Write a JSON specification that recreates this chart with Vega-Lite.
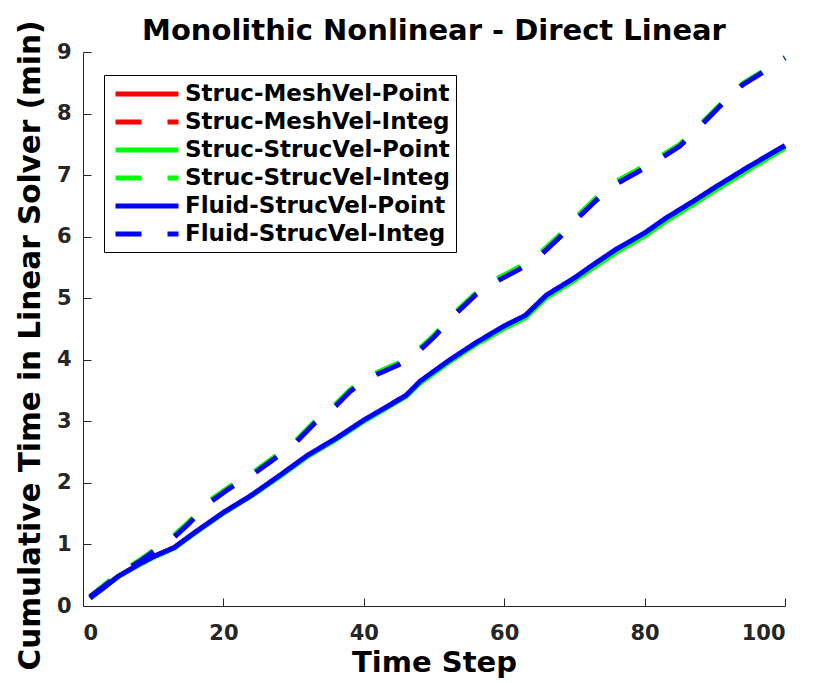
{
  "$schema": "https://vega.github.io/schema/vega-lite/v6.json",
  "autosize": "none",
  "width": 702,
  "height": 554,
  "padding": {"left": 83, "top": 52, "right": 29, "bottom": 77},
  "background": "white",
  "title": {
    "text": "Monolithic Nonlinear - Direct Linear",
    "font": "DejaVu Sans",
    "fontSize": 29,
    "fontWeight": "bold",
    "color": "black",
    "anchor": "middle",
    "baseline": "alphabetic",
    "offset": -49
  },
  "config": {
    "view": {"stroke": null},
    "axis": {
      "grid": false,
      "domainColor": "#262626",
      "tickColor": "#262626",
      "domainWidth": 1,
      "tickWidth": 1,
      "labelFont": "DejaVu Sans",
      "labelFontSize": 21,
      "labelFontWeight": "bold",
      "labelColor": "#262626",
      "titleFont": "DejaVu Sans",
      "titleFontSize": 29,
      "titleFontWeight": "bold",
      "titleColor": "black",
      "tickSize": -8
    }
  },
  "data": {
    "values": [
      {"t": 1, "v": 0.13, "s": "Struc-MeshVel-Point"},
      {"t": 3, "v": 0.31, "s": "Struc-MeshVel-Point"},
      {"t": 5, "v": 0.48, "s": "Struc-MeshVel-Point"},
      {"t": 8, "v": 0.68, "s": "Struc-MeshVel-Point"},
      {"t": 10, "v": 0.8, "s": "Struc-MeshVel-Point"},
      {"t": 13, "v": 0.95, "s": "Struc-MeshVel-Point"},
      {"t": 16, "v": 1.2, "s": "Struc-MeshVel-Point"},
      {"t": 20, "v": 1.51, "s": "Struc-MeshVel-Point"},
      {"t": 24, "v": 1.79, "s": "Struc-MeshVel-Point"},
      {"t": 28, "v": 2.11, "s": "Struc-MeshVel-Point"},
      {"t": 32, "v": 2.44, "s": "Struc-MeshVel-Point"},
      {"t": 36, "v": 2.71, "s": "Struc-MeshVel-Point"},
      {"t": 40, "v": 3.01, "s": "Struc-MeshVel-Point"},
      {"t": 43, "v": 3.21, "s": "Struc-MeshVel-Point"},
      {"t": 46, "v": 3.41, "s": "Struc-MeshVel-Point"},
      {"t": 48, "v": 3.63, "s": "Struc-MeshVel-Point"},
      {"t": 52, "v": 3.96, "s": "Struc-MeshVel-Point"},
      {"t": 56, "v": 4.26, "s": "Struc-MeshVel-Point"},
      {"t": 60, "v": 4.53, "s": "Struc-MeshVel-Point"},
      {"t": 63, "v": 4.7, "s": "Struc-MeshVel-Point"},
      {"t": 66, "v": 5.03, "s": "Struc-MeshVel-Point"},
      {"t": 70, "v": 5.31, "s": "Struc-MeshVel-Point"},
      {"t": 73, "v": 5.54, "s": "Struc-MeshVel-Point"},
      {"t": 76, "v": 5.77, "s": "Struc-MeshVel-Point"},
      {"t": 80, "v": 6.03, "s": "Struc-MeshVel-Point"},
      {"t": 83, "v": 6.27, "s": "Struc-MeshVel-Point"},
      {"t": 87, "v": 6.55, "s": "Struc-MeshVel-Point"},
      {"t": 90, "v": 6.77, "s": "Struc-MeshVel-Point"},
      {"t": 95, "v": 7.12, "s": "Struc-MeshVel-Point"},
      {"t": 100, "v": 7.46, "s": "Struc-MeshVel-Point"},

      {"t": 1, "v": 0.15, "s": "Struc-MeshVel-Integ"},
      {"t": 3, "v": 0.33, "s": "Struc-MeshVel-Integ"},
      {"t": 5, "v": 0.51, "s": "Struc-MeshVel-Integ"},
      {"t": 8, "v": 0.73, "s": "Struc-MeshVel-Integ"},
      {"t": 10, "v": 0.89, "s": "Struc-MeshVel-Integ"},
      {"t": 13, "v": 1.13, "s": "Struc-MeshVel-Integ"},
      {"t": 15, "v": 1.34, "s": "Struc-MeshVel-Integ"},
      {"t": 18, "v": 1.69, "s": "Struc-MeshVel-Integ"},
      {"t": 21, "v": 1.93, "s": "Struc-MeshVel-Integ"},
      {"t": 24, "v": 2.13, "s": "Struc-MeshVel-Integ"},
      {"t": 27, "v": 2.38, "s": "Struc-MeshVel-Integ"},
      {"t": 30, "v": 2.63, "s": "Struc-MeshVel-Integ"},
      {"t": 33, "v": 2.98, "s": "Struc-MeshVel-Integ"},
      {"t": 36, "v": 3.26, "s": "Struc-MeshVel-Integ"},
      {"t": 38, "v": 3.49, "s": "Struc-MeshVel-Integ"},
      {"t": 40, "v": 3.66, "s": "Struc-MeshVel-Integ"},
      {"t": 42, "v": 3.78, "s": "Struc-MeshVel-Integ"},
      {"t": 45, "v": 3.93, "s": "Struc-MeshVel-Integ"},
      {"t": 47, "v": 4.06, "s": "Struc-MeshVel-Integ"},
      {"t": 50, "v": 4.38, "s": "Struc-MeshVel-Integ"},
      {"t": 53, "v": 4.75, "s": "Struc-MeshVel-Integ"},
      {"t": 56, "v": 5.07, "s": "Struc-MeshVel-Integ"},
      {"t": 58, "v": 5.23, "s": "Struc-MeshVel-Integ"},
      {"t": 62, "v": 5.47, "s": "Struc-MeshVel-Integ"},
      {"t": 65, "v": 5.69, "s": "Struc-MeshVel-Integ"},
      {"t": 68, "v": 6.01, "s": "Struc-MeshVel-Integ"},
      {"t": 70, "v": 6.26, "s": "Struc-MeshVel-Integ"},
      {"t": 73, "v": 6.59, "s": "Struc-MeshVel-Integ"},
      {"t": 76, "v": 6.87, "s": "Struc-MeshVel-Integ"},
      {"t": 79, "v": 7.06, "s": "Struc-MeshVel-Integ"},
      {"t": 82, "v": 7.26, "s": "Struc-MeshVel-Integ"},
      {"t": 85, "v": 7.48, "s": "Struc-MeshVel-Integ"},
      {"t": 88, "v": 7.81, "s": "Struc-MeshVel-Integ"},
      {"t": 91, "v": 8.16, "s": "Struc-MeshVel-Integ"},
      {"t": 94, "v": 8.48, "s": "Struc-MeshVel-Integ"},
      {"t": 97, "v": 8.69, "s": "Struc-MeshVel-Integ"},
      {"t": 100, "v": 8.91, "s": "Struc-MeshVel-Integ"},

      {"t": 1, "v": 0.13, "s": "Struc-StrucVel-Point"},
      {"t": 3, "v": 0.3, "s": "Struc-StrucVel-Point"},
      {"t": 5, "v": 0.48, "s": "Struc-StrucVel-Point"},
      {"t": 8, "v": 0.67, "s": "Struc-StrucVel-Point"},
      {"t": 10, "v": 0.79, "s": "Struc-StrucVel-Point"},
      {"t": 13, "v": 0.94, "s": "Struc-StrucVel-Point"},
      {"t": 16, "v": 1.19, "s": "Struc-StrucVel-Point"},
      {"t": 20, "v": 1.51, "s": "Struc-StrucVel-Point"},
      {"t": 24, "v": 1.79, "s": "Struc-StrucVel-Point"},
      {"t": 28, "v": 2.1, "s": "Struc-StrucVel-Point"},
      {"t": 32, "v": 2.43, "s": "Struc-StrucVel-Point"},
      {"t": 36, "v": 2.7, "s": "Struc-StrucVel-Point"},
      {"t": 40, "v": 3.0, "s": "Struc-StrucVel-Point"},
      {"t": 43, "v": 3.2, "s": "Struc-StrucVel-Point"},
      {"t": 46, "v": 3.4, "s": "Struc-StrucVel-Point"},
      {"t": 48, "v": 3.62, "s": "Struc-StrucVel-Point"},
      {"t": 52, "v": 3.95, "s": "Struc-StrucVel-Point"},
      {"t": 56, "v": 4.25, "s": "Struc-StrucVel-Point"},
      {"t": 60, "v": 4.51, "s": "Struc-StrucVel-Point"},
      {"t": 63, "v": 4.68, "s": "Struc-StrucVel-Point"},
      {"t": 66, "v": 5.01, "s": "Struc-StrucVel-Point"},
      {"t": 70, "v": 5.29, "s": "Struc-StrucVel-Point"},
      {"t": 73, "v": 5.52, "s": "Struc-StrucVel-Point"},
      {"t": 76, "v": 5.75, "s": "Struc-StrucVel-Point"},
      {"t": 80, "v": 6.01, "s": "Struc-StrucVel-Point"},
      {"t": 83, "v": 6.25, "s": "Struc-StrucVel-Point"},
      {"t": 87, "v": 6.53, "s": "Struc-StrucVel-Point"},
      {"t": 90, "v": 6.75, "s": "Struc-StrucVel-Point"},
      {"t": 95, "v": 7.1, "s": "Struc-StrucVel-Point"},
      {"t": 100, "v": 7.44, "s": "Struc-StrucVel-Point"},

      {"t": 1, "v": 0.15, "s": "Struc-StrucVel-Integ"},
      {"t": 3, "v": 0.34, "s": "Struc-StrucVel-Integ"},
      {"t": 5, "v": 0.52, "s": "Struc-StrucVel-Integ"},
      {"t": 8, "v": 0.74, "s": "Struc-StrucVel-Integ"},
      {"t": 10, "v": 0.9, "s": "Struc-StrucVel-Integ"},
      {"t": 13, "v": 1.15, "s": "Struc-StrucVel-Integ"},
      {"t": 15, "v": 1.36, "s": "Struc-StrucVel-Integ"},
      {"t": 18, "v": 1.71, "s": "Struc-StrucVel-Integ"},
      {"t": 21, "v": 1.95, "s": "Struc-StrucVel-Integ"},
      {"t": 24, "v": 2.15, "s": "Struc-StrucVel-Integ"},
      {"t": 27, "v": 2.4, "s": "Struc-StrucVel-Integ"},
      {"t": 30, "v": 2.65, "s": "Struc-StrucVel-Integ"},
      {"t": 33, "v": 3.0, "s": "Struc-StrucVel-Integ"},
      {"t": 36, "v": 3.28, "s": "Struc-StrucVel-Integ"},
      {"t": 38, "v": 3.51, "s": "Struc-StrucVel-Integ"},
      {"t": 40, "v": 3.68, "s": "Struc-StrucVel-Integ"},
      {"t": 42, "v": 3.8, "s": "Struc-StrucVel-Integ"},
      {"t": 45, "v": 3.95, "s": "Struc-StrucVel-Integ"},
      {"t": 47, "v": 4.08, "s": "Struc-StrucVel-Integ"},
      {"t": 50, "v": 4.4, "s": "Struc-StrucVel-Integ"},
      {"t": 53, "v": 4.77, "s": "Struc-StrucVel-Integ"},
      {"t": 56, "v": 5.09, "s": "Struc-StrucVel-Integ"},
      {"t": 58, "v": 5.26, "s": "Struc-StrucVel-Integ"},
      {"t": 62, "v": 5.5, "s": "Struc-StrucVel-Integ"},
      {"t": 65, "v": 5.72, "s": "Struc-StrucVel-Integ"},
      {"t": 68, "v": 6.04, "s": "Struc-StrucVel-Integ"},
      {"t": 70, "v": 6.29, "s": "Struc-StrucVel-Integ"},
      {"t": 73, "v": 6.62, "s": "Struc-StrucVel-Integ"},
      {"t": 76, "v": 6.9, "s": "Struc-StrucVel-Integ"},
      {"t": 79, "v": 7.09, "s": "Struc-StrucVel-Integ"},
      {"t": 82, "v": 7.29, "s": "Struc-StrucVel-Integ"},
      {"t": 85, "v": 7.5, "s": "Struc-StrucVel-Integ"},
      {"t": 88, "v": 7.83, "s": "Struc-StrucVel-Integ"},
      {"t": 91, "v": 8.17, "s": "Struc-StrucVel-Integ"},
      {"t": 94, "v": 8.49, "s": "Struc-StrucVel-Integ"},
      {"t": 97, "v": 8.7, "s": "Struc-StrucVel-Integ"},
      {"t": 100, "v": 8.91, "s": "Struc-StrucVel-Integ"},

      {"t": 1, "v": 0.13, "s": "Fluid-StrucVel-Point"},
      {"t": 3, "v": 0.3, "s": "Fluid-StrucVel-Point"},
      {"t": 5, "v": 0.48, "s": "Fluid-StrucVel-Point"},
      {"t": 8, "v": 0.68, "s": "Fluid-StrucVel-Point"},
      {"t": 10, "v": 0.8, "s": "Fluid-StrucVel-Point"},
      {"t": 13, "v": 0.95, "s": "Fluid-StrucVel-Point"},
      {"t": 16, "v": 1.2, "s": "Fluid-StrucVel-Point"},
      {"t": 20, "v": 1.52, "s": "Fluid-StrucVel-Point"},
      {"t": 24, "v": 1.8, "s": "Fluid-StrucVel-Point"},
      {"t": 28, "v": 2.12, "s": "Fluid-StrucVel-Point"},
      {"t": 32, "v": 2.45, "s": "Fluid-StrucVel-Point"},
      {"t": 36, "v": 2.72, "s": "Fluid-StrucVel-Point"},
      {"t": 40, "v": 3.02, "s": "Fluid-StrucVel-Point"},
      {"t": 43, "v": 3.22, "s": "Fluid-StrucVel-Point"},
      {"t": 46, "v": 3.42, "s": "Fluid-StrucVel-Point"},
      {"t": 48, "v": 3.65, "s": "Fluid-StrucVel-Point"},
      {"t": 52, "v": 3.98, "s": "Fluid-StrucVel-Point"},
      {"t": 56, "v": 4.28, "s": "Fluid-StrucVel-Point"},
      {"t": 60, "v": 4.55, "s": "Fluid-StrucVel-Point"},
      {"t": 63, "v": 4.72, "s": "Fluid-StrucVel-Point"},
      {"t": 66, "v": 5.05, "s": "Fluid-StrucVel-Point"},
      {"t": 70, "v": 5.33, "s": "Fluid-StrucVel-Point"},
      {"t": 73, "v": 5.57, "s": "Fluid-StrucVel-Point"},
      {"t": 76, "v": 5.8, "s": "Fluid-StrucVel-Point"},
      {"t": 80, "v": 6.06, "s": "Fluid-StrucVel-Point"},
      {"t": 83, "v": 6.3, "s": "Fluid-StrucVel-Point"},
      {"t": 87, "v": 6.58, "s": "Fluid-StrucVel-Point"},
      {"t": 90, "v": 6.8, "s": "Fluid-StrucVel-Point"},
      {"t": 95, "v": 7.15, "s": "Fluid-StrucVel-Point"},
      {"t": 100, "v": 7.48, "s": "Fluid-StrucVel-Point"},

      {"t": 1, "v": 0.15, "s": "Fluid-StrucVel-Integ"},
      {"t": 3, "v": 0.32, "s": "Fluid-StrucVel-Integ"},
      {"t": 5, "v": 0.5, "s": "Fluid-StrucVel-Integ"},
      {"t": 8, "v": 0.72, "s": "Fluid-StrucVel-Integ"},
      {"t": 10, "v": 0.88, "s": "Fluid-StrucVel-Integ"},
      {"t": 13, "v": 1.12, "s": "Fluid-StrucVel-Integ"},
      {"t": 15, "v": 1.33, "s": "Fluid-StrucVel-Integ"},
      {"t": 18, "v": 1.68, "s": "Fluid-StrucVel-Integ"},
      {"t": 21, "v": 1.92, "s": "Fluid-StrucVel-Integ"},
      {"t": 24, "v": 2.12, "s": "Fluid-StrucVel-Integ"},
      {"t": 27, "v": 2.37, "s": "Fluid-StrucVel-Integ"},
      {"t": 30, "v": 2.62, "s": "Fluid-StrucVel-Integ"},
      {"t": 33, "v": 2.97, "s": "Fluid-StrucVel-Integ"},
      {"t": 36, "v": 3.25, "s": "Fluid-StrucVel-Integ"},
      {"t": 38, "v": 3.48, "s": "Fluid-StrucVel-Integ"},
      {"t": 40, "v": 3.65, "s": "Fluid-StrucVel-Integ"},
      {"t": 42, "v": 3.77, "s": "Fluid-StrucVel-Integ"},
      {"t": 45, "v": 3.92, "s": "Fluid-StrucVel-Integ"},
      {"t": 47, "v": 4.05, "s": "Fluid-StrucVel-Integ"},
      {"t": 50, "v": 4.37, "s": "Fluid-StrucVel-Integ"},
      {"t": 53, "v": 4.74, "s": "Fluid-StrucVel-Integ"},
      {"t": 56, "v": 5.06, "s": "Fluid-StrucVel-Integ"},
      {"t": 58, "v": 5.22, "s": "Fluid-StrucVel-Integ"},
      {"t": 62, "v": 5.46, "s": "Fluid-StrucVel-Integ"},
      {"t": 65, "v": 5.68, "s": "Fluid-StrucVel-Integ"},
      {"t": 68, "v": 6.0, "s": "Fluid-StrucVel-Integ"},
      {"t": 70, "v": 6.25, "s": "Fluid-StrucVel-Integ"},
      {"t": 73, "v": 6.58, "s": "Fluid-StrucVel-Integ"},
      {"t": 76, "v": 6.86, "s": "Fluid-StrucVel-Integ"},
      {"t": 79, "v": 7.05, "s": "Fluid-StrucVel-Integ"},
      {"t": 82, "v": 7.25, "s": "Fluid-StrucVel-Integ"},
      {"t": 85, "v": 7.47, "s": "Fluid-StrucVel-Integ"},
      {"t": 88, "v": 7.8, "s": "Fluid-StrucVel-Integ"},
      {"t": 91, "v": 8.15, "s": "Fluid-StrucVel-Integ"},
      {"t": 94, "v": 8.47, "s": "Fluid-StrucVel-Integ"},
      {"t": 97, "v": 8.68, "s": "Fluid-StrucVel-Integ"},
      {"t": 100, "v": 8.9, "s": "Fluid-StrucVel-Integ"}
    ]
  },
  "mark": {"type": "line", "strokeWidth": 5, "strokeJoin": "round"},
  "encoding": {
    "x": {
      "field": "t",
      "type": "quantitative",
      "scale": {"domain": [0, 100], "nice": false, "zero": false},
      "axis": {"values": [0, 20, 40, 60, 80, 100], "title": "Time Step", "labelPadding": 24, "titlePadding": 5}
    },
    "y": {
      "field": "v",
      "type": "quantitative",
      "scale": {"domain": [0, 9], "nice": false},
      "axis": {"values": [0, 1, 2, 3, 4, 5, 6, 7, 8, 9], "title": "Cumulative Time in Linear Solver (min)", "labelPadding": 20, "titlePadding": 11, "titleFontSize": 29.5, "titleY": 293}
    },
    "color": {
      "field": "s",
      "type": "nominal",
      "sort": null,
      "scale": {
        "domain": ["Struc-MeshVel-Point", "Struc-MeshVel-Integ", "Struc-StrucVel-Point", "Struc-StrucVel-Integ", "Fluid-StrucVel-Point", "Fluid-StrucVel-Integ"],
        "range": ["#ff0000", "#ff0000", "#00ff00", "#00ff00", "#0000ff", "#0000ff"]
      },
      "legend": {
        "title": null,
        "orient": "none",
        "legendX": 21,
        "legendY": 23,
        "strokeColor": "black",
        "fillColor": "white",
        "padding": 6,
        "symbolType": "M-3,0H3",
        "symbolSize": 441,
        "symbolOffset": 24,
        "symbolStrokeWidth": 5,
        "labelFont": "DejaVu Sans",
        "labelFontSize": 23,
        "labelFontWeight": "bold",
        "labelColor": "black",
        "labelOffset": 25,
        "labelLimit": 500,
        "rowPadding": 3
      }
    },
    "strokeDash": {
      "field": "s",
      "type": "nominal",
      "sort": null,
      "scale": {
        "domain": ["Struc-MeshVel-Point", "Struc-MeshVel-Integ", "Struc-StrucVel-Point", "Struc-StrucVel-Integ", "Fluid-StrucVel-Point", "Fluid-StrucVel-Integ"],
        "range": [[1, 0], [26, 26], [1, 0], [26, 26], [1, 0], [26, 26]]
      },
      "legend": null
    }
  }
}
